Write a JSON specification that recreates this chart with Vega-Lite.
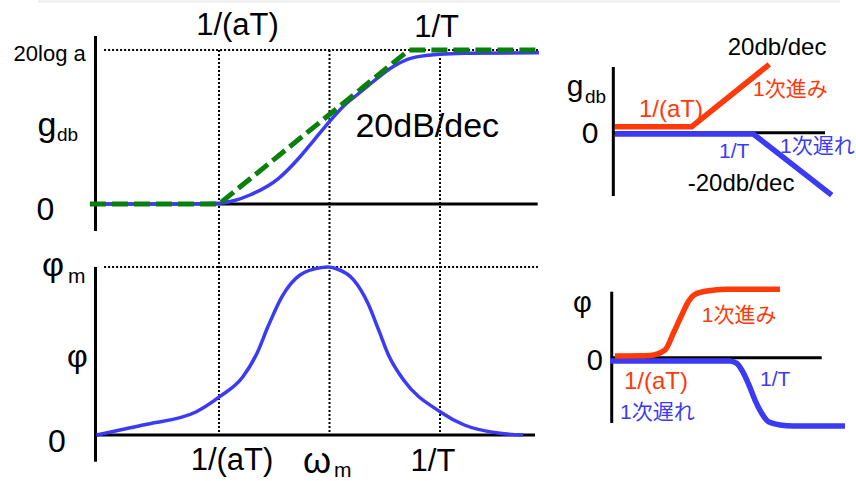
{
  "$schema": "https://vega.github.io/schema/vega-lite/v6.json",
  "width": 856,
  "height": 481,
  "autosize": {"type": "none"},
  "padding": 0,
  "background": "white",
  "config": {"view": {"stroke": null}, "text": {"font": "Liberation Sans, Noto Sans CJK JP", "color": "black"}},
  "datasets": {
    "gainA": [
      {"kind": "frame", "w": -1.819, "w2": 1.81, "v": 26.3, "v2": 26.3},
      {"kind": "axis", "w": -1.5588, "w2": -1.5588, "v": 21.82, "v2": -3.51},
      {"kind": "axis", "w": -1.5588, "w2": 0.442, "v": 0, "v2": 0},
      {"kind": "guide", "w": -1.52, "w2": 0.443, "v": 20, "v2": 20},
      {"kind": "guide", "w": -1, "w2": -1, "v": 20, "v2": -30},
      {"kind": "guide", "w": -0.5, "w2": -0.5, "v": 20, "v2": -30},
      {"kind": "guide", "w": 0, "w2": 0, "v": 20, "v2": -30},
      {"kind": "exact", "w": -1.584, "v": 0},
      {"kind": "exact", "w": -1.2, "v": 0},
      {"kind": "exact", "w": -1.0, "v": 0.1},
      {"kind": "exact", "w": -0.93, "v": 0.45},
      {"kind": "exact", "w": -0.86, "v": 1.17},
      {"kind": "exact", "w": -0.73, "v": 3.34},
      {"kind": "exact", "w": -0.633, "v": 6.14},
      {"kind": "exact", "w": -0.57, "v": 8.31},
      {"kind": "exact", "w": -0.507, "v": 10.48},
      {"kind": "exact", "w": -0.439, "v": 12.64},
      {"kind": "exact", "w": -0.376, "v": 14.16},
      {"kind": "exact", "w": -0.294, "v": 16.1},
      {"kind": "exact", "w": -0.213, "v": 17.83},
      {"kind": "exact", "w": -0.133, "v": 18.92},
      {"kind": "exact", "w": 0, "v": 19.44},
      {"kind": "exact", "w": 0.109, "v": 19.57},
      {"kind": "exact", "w": 0.448, "v": 19.65},
      {"kind": "asymptote", "w": -1.584, "v": 0},
      {"kind": "asymptote", "w": -1.0, "v": 0},
      {"kind": "asymptote", "w": -0.14, "v": 20},
      {"kind": "asymptote", "w": 0.443, "v": 20},
      {"kind": "tick", "label": "1/(aT)", "w": -0.9163, "v": 21.948},
      {"kind": "tick", "label": "1/T", "w": -0.0154, "v": 21.649},
      {"kind": "level", "label": "20log a", "w": -1.9294, "v": 18.571},
      {"kind": "sym", "label": "g", "w": -1.8213, "v": 8.831},
      {"kind": "sub", "label": "db", "w": -1.733, "v": 8.182},
      {"kind": "zero", "label": "0", "w": -1.8253, "v": -2.078},
      {"kind": "slope", "label": "20dB/dec", "w": -0.3828, "v": 8.662}
    ],
    "phaseB": [
      {"kind": "axis", "w": -1.5588, "w2": -1.5588, "v": 55, "v2": -8.74},
      {"kind": "axis", "w": -1.5588, "w2": 0.43, "v": 0, "v2": 0},
      {"kind": "guide", "w": -1.52, "w2": 0.443, "v": 55, "v2": 55},
      {"kind": "exact", "w": -1.5548, "v": 0},
      {"kind": "exact", "w": -1.3443, "v": 3.27},
      {"kind": "exact", "w": -1.1023, "v": 7.63},
      {"kind": "exact", "w": -0.9973, "v": 12.54},
      {"kind": "exact", "w": -0.8919, "v": 19.09},
      {"kind": "exact", "w": -0.8281, "v": 26.75},
      {"kind": "exact", "w": -0.7783, "v": 35.5},
      {"kind": "exact", "w": -0.7149, "v": 45.33},
      {"kind": "exact", "w": -0.6335, "v": 52.38},
      {"kind": "exact", "w": -0.5385, "v": 54.8},
      {"kind": "exact", "w": -0.5068, "v": 55},
      {"kind": "exact", "w": -0.4719, "v": 54.5},
      {"kind": "exact", "w": -0.3909, "v": 50.76},
      {"kind": "exact", "w": -0.3262, "v": 43.1},
      {"kind": "exact", "w": -0.2778, "v": 34.4},
      {"kind": "exact", "w": -0.2294, "v": 25.6},
      {"kind": "exact", "w": -0.1647, "v": 18.0},
      {"kind": "exact", "w": 0, "v": 7.63},
      {"kind": "exact", "w": 0.11, "v": 3.27},
      {"kind": "exact", "w": 0.2715, "v": 0.55},
      {"kind": "exact", "w": 0.3765, "v": 0},
      {"kind": "tick", "label": "1/(aT)", "w": -0.9412, "v": -11.458},
      {"kind": "tick", "label": "1/T", "w": -0.0317, "v": -11.786},
      {"kind": "sym", "label": "φ", "w": -1.8014, "v": 52.05},
      {"kind": "sub", "label": "m", "w": -1.6837, "v": 49.66},
      {"kind": "name", "label": "φ", "w": -1.6882, "v": 22.26},
      {"kind": "name", "label": "0", "w": -1.7738, "v": -5.467},
      {"kind": "omega", "label": "ω", "w": -0.6199, "v": -12.44},
      {"kind": "sub", "label": "m", "w": -0.4796, "v": -13.75}
    ],
    "gainC": [
      {"kind": "axis", "w": 0.004, "w2": 0.004, "v": 20.86, "v2": -20.1},
      {"kind": "axis", "w": 0.004, "w2": 2.65, "v": 0, "v2": 0},
      {"kind": "lead", "w": 0.025, "v": 1.9},
      {"kind": "lead", "w": 0.984, "v": 1.9},
      {"kind": "lead", "w": 1.954, "v": 21.7},
      {"kind": "lag", "w": 0.025, "v": -0.41},
      {"kind": "lag", "w": 1.754, "v": -0.41},
      {"kind": "lag", "w": 2.734, "v": -19.8},
      {"kind": "black", "label": "20db/dec", "w": 1.4338, "v": 24.667},
      {"kind": "black", "label": "-20db/dec", "w": 0.9338, "v": -18.508},
      {"kind": "sym", "label": "g", "w": -0.5788, "v": 11.651},
      {"kind": "sub", "label": "db", "w": -0.35, "v": 9.429},
      {"kind": "zero", "label": "0", "w": -0.3913, "v": -3.27},
      {"kind": "leadTick", "label": "1/(aT)", "w": 0.325, "v": 5.079},
      {"kind": "leadText", "label": "1次進み", "w": 1.75, "v": 11.651},
      {"kind": "lagText", "label": "1/T", "w": 1.325, "v": -8.032},
      {"kind": "lagText", "label": "1次遅れ", "w": 2.0875, "v": -6.603}
    ],
    "phaseD": [
      {"kind": "axis", "w": -0.016, "w2": -0.016, "v": 89.2, "v2": -88.2},
      {"kind": "axis", "w": -0.016, "w2": 2.609, "v": 0, "v2": 0},
      {"kind": "lead", "w": 0.025, "v": 2.3},
      {"kind": "lead", "w": 0.4625, "v": 3.0},
      {"kind": "lead", "w": 0.65, "v": 10.4},
      {"kind": "lead", "w": 0.754, "v": 33.0},
      {"kind": "lead", "w": 0.859, "v": 57.7},
      {"kind": "lead", "w": 0.941, "v": 75.7},
      {"kind": "lead", "w": 1.025, "v": 85.7},
      {"kind": "lead", "w": 1.171, "v": 90.1},
      {"kind": "lead", "w": 1.421, "v": 92.4},
      {"kind": "lead", "w": 2.0875, "v": 92.4},
      {"kind": "lag", "w": -0.0375, "v": -4.46},
      {"kind": "lag", "w": 1.4625, "v": -4.46},
      {"kind": "lag", "w": 1.546, "v": -7.57},
      {"kind": "lag", "w": 1.609, "v": -16.6},
      {"kind": "lag", "w": 1.691, "v": -34.6},
      {"kind": "lag", "w": 1.775, "v": -57.2},
      {"kind": "lag", "w": 1.859, "v": -75.1},
      {"kind": "lag", "w": 1.941, "v": -86.5},
      {"kind": "lag", "w": 2.0875, "v": -90.9},
      {"kind": "lag", "w": 2.254, "v": -92.3},
      {"kind": "lag", "w": 2.9, "v": -92.3},
      {"kind": "black", "label": "φ", "w": -0.5, "v": 61.76},
      {"kind": "black", "label": "0", "w": -0.3288, "v": -16.62},
      {"kind": "leadTick", "label": "1/(aT)", "w": 0.1375, "v": -42.3},
      {"kind": "leadText", "label": "1次進み", "w": 1.1088, "v": 48.24},
      {"kind": "lagText", "label": "1/T", "w": 1.8375, "v": -38.24},
      {"kind": "lagText", "label": "1次遅れ", "w": 0.0875, "v": -82.84}
    ]
  },
  "layer": [
    {
      "data": {"name": "gainA"},
      "encoding": {
        "x": {"field": "w", "type": "quantitative", "scale": {"domain": [-1.99095, 1.88235], "nice": false, "zero": false}, "axis": null},
        "y": {"field": "v", "type": "quantitative", "scale": {"domain": [-35.974, 26.494], "nice": false, "zero": false}, "axis": null}
      },
      "layer": [
        {"transform": [{"filter": "datum.kind === 'frame'"}], "mark": {"type": "rule", "color": "#ececec", "strokeWidth": 2}, "encoding": {"x2": {"field": "w2"}, "y2": {"field": "v2"}}},
        {"transform": [{"filter": "datum.kind === 'guide'"}], "mark": {"type": "rule", "color": "black", "strokeWidth": 2, "strokeDash": [2, 2]}, "encoding": {"x2": {"field": "w2"}, "y2": {"field": "v2"}}},
        {"transform": [{"filter": "datum.kind === 'axis'"}], "mark": {"type": "rule", "color": "black", "strokeWidth": 3}, "encoding": {"x2": {"field": "w2"}, "y2": {"field": "v2"}}},
        {"transform": [{"filter": "datum.kind === 'exact'"}], "mark": {"type": "line", "color": "#3b3bf5", "strokeWidth": 3.5, "interpolate": "monotone"}},
        {"transform": [{"filter": "datum.kind === 'asymptote'"}], "mark": {"type": "line", "color": "#0a7f0a", "strokeWidth": 5, "strokeDash": [16, 6]}},
        {"transform": [{"filter": "datum.kind === 'tick'"}], "mark": {"type": "text", "align": "center", "baseline": "alphabetic", "fontSize": 31}, "encoding": {"text": {"field": "label"}}},
        {"transform": [{"filter": "datum.kind === 'zero'"}], "mark": {"type": "text", "align": "left", "baseline": "alphabetic", "fontSize": 32}, "encoding": {"text": {"field": "label"}}},
        {"transform": [{"filter": "datum.kind === 'level'"}], "mark": {"type": "text", "align": "left", "baseline": "alphabetic", "fontSize": 22}, "encoding": {"text": {"field": "label"}}},
        {"transform": [{"filter": "datum.kind === 'sym'"}], "mark": {"type": "text", "align": "left", "baseline": "alphabetic", "fontSize": 34}, "encoding": {"text": {"field": "label"}}},
        {"transform": [{"filter": "datum.kind === 'sub'"}], "mark": {"type": "text", "align": "left", "baseline": "alphabetic", "fontSize": 19}, "encoding": {"text": {"field": "label"}}},
        {"transform": [{"filter": "datum.kind === 'slope'"}], "mark": {"type": "text", "align": "left", "baseline": "alphabetic", "fontSize": 34}, "encoding": {"text": {"field": "label"}}}
      ]
    },
    {
      "data": {"name": "phaseB"},
      "encoding": {
        "x": {"field": "w", "type": "quantitative", "scale": {"domain": [-1.99095, 1.88235], "nice": false, "zero": false}, "axis": null},
        "y": {"field": "v", "type": "quantitative", "scale": {"domain": [-15.06, 142.411], "nice": false, "zero": false}, "axis": null}
      },
      "layer": [
        {"transform": [{"filter": "datum.kind === 'guide'"}], "mark": {"type": "rule", "color": "black", "strokeWidth": 2, "strokeDash": [2, 2]}, "encoding": {"x2": {"field": "w2"}, "y2": {"field": "v2"}}},
        {"transform": [{"filter": "datum.kind === 'axis'"}], "mark": {"type": "rule", "color": "black", "strokeWidth": 3}, "encoding": {"x2": {"field": "w2"}, "y2": {"field": "v2"}}},
        {"transform": [{"filter": "datum.kind === 'exact'"}], "mark": {"type": "line", "color": "#3b3bf5", "strokeWidth": 3.5, "interpolate": "monotone"}},
        {"transform": [{"filter": "datum.kind === 'tick'"}], "mark": {"type": "text", "align": "center", "baseline": "alphabetic", "fontSize": 31}, "encoding": {"text": {"field": "label"}}},
        {"transform": [{"filter": "datum.kind === 'name'"}], "mark": {"type": "text", "align": "left", "baseline": "alphabetic", "fontSize": 32}, "encoding": {"text": {"field": "label"}}},
        {"transform": [{"filter": "datum.kind === 'omega'"}], "mark": {"type": "text", "align": "left", "baseline": "alphabetic", "fontSize": 36}, "encoding": {"text": {"field": "label"}}},
        {"transform": [{"filter": "datum.kind === 'sym'"}], "mark": {"type": "text", "align": "left", "baseline": "alphabetic", "fontSize": 34}, "encoding": {"text": {"field": "label"}}},
        {"transform": [{"filter": "datum.kind === 'sub'"}], "mark": {"type": "text", "align": "left", "baseline": "alphabetic", "fontSize": 21}, "encoding": {"text": {"field": "label"}}}
      ]
    },
    {
      "data": {"name": "gainC"},
      "encoding": {
        "x": {"field": "w", "type": "quantitative", "scale": {"domain": [-7.6625, 3.0375], "nice": false, "zero": false}, "axis": null},
        "y": {"field": "v", "type": "quantitative", "scale": {"domain": [-110.571, 42.127], "nice": false, "zero": false}, "axis": null}
      },
      "layer": [
        {"transform": [{"filter": "datum.kind === 'axis'"}], "mark": {"type": "rule", "color": "black", "strokeWidth": 3}, "encoding": {"x2": {"field": "w2"}, "y2": {"field": "v2"}}},
        {"transform": [{"filter": "datum.kind === 'lead'"}], "mark": {"type": "line", "color": "#ff3a0a", "strokeWidth": 5.5}},
        {"transform": [{"filter": "datum.kind === 'lag'"}], "mark": {"type": "line", "color": "#3b3bf5", "strokeWidth": 5.5}},
        {"transform": [{"filter": "datum.kind === 'black'"}], "mark": {"type": "text", "align": "left", "baseline": "alphabetic", "fontSize": 24}, "encoding": {"text": {"field": "label"}}},
        {"transform": [{"filter": "datum.kind === 'sym'"}], "mark": {"type": "text", "align": "left", "baseline": "alphabetic", "fontSize": 30}, "encoding": {"text": {"field": "label"}}},
        {"transform": [{"filter": "datum.kind === 'sub'"}], "mark": {"type": "text", "align": "left", "baseline": "alphabetic", "fontSize": 19}, "encoding": {"text": {"field": "label"}}},
        {"transform": [{"filter": "datum.kind === 'zero'"}], "mark": {"type": "text", "align": "left", "baseline": "alphabetic", "fontSize": 30}, "encoding": {"text": {"field": "label"}}},
        {"transform": [{"filter": "datum.kind === 'leadTick'"}], "mark": {"type": "text", "align": "left", "baseline": "alphabetic", "fontSize": 24, "color": "#ff3a0a"}, "encoding": {"text": {"field": "label"}}},
        {"transform": [{"filter": "datum.kind === 'leadText'"}], "mark": {"type": "text", "align": "left", "baseline": "alphabetic", "fontSize": 21, "color": "#ff3a0a"}, "encoding": {"text": {"field": "label"}}},
        {"transform": [{"filter": "datum.kind === 'lagText'"}], "mark": {"type": "text", "align": "left", "baseline": "alphabetic", "fontSize": 21, "color": "#3b3bf5"}, "encoding": {"text": {"field": "label"}}}
      ]
    },
    {
      "data": {"name": "phaseD"},
      "encoding": {
        "x": {"field": "w", "type": "quantitative", "scale": {"domain": [-7.6625, 3.0375], "nice": false, "zero": false}, "axis": null},
        "y": {"field": "v", "type": "quantitative", "scale": {"domain": [-166.622, 483.378], "nice": false, "zero": false}, "axis": null}
      },
      "layer": [
        {"transform": [{"filter": "datum.kind === 'axis'"}], "mark": {"type": "rule", "color": "black", "strokeWidth": 3}, "encoding": {"x2": {"field": "w2"}, "y2": {"field": "v2"}}},
        {"transform": [{"filter": "datum.kind === 'lag'"}], "mark": {"type": "line", "color": "#3b3bf5", "strokeWidth": 5.5, "interpolate": "monotone"}},
        {"transform": [{"filter": "datum.kind === 'lead'"}], "mark": {"type": "line", "color": "#ff3a0a", "strokeWidth": 5.5, "interpolate": "monotone"}},
        {"transform": [{"filter": "datum.kind === 'black'"}], "mark": {"type": "text", "align": "left", "baseline": "alphabetic", "fontSize": 29}, "encoding": {"text": {"field": "label"}}},
        {"transform": [{"filter": "datum.kind === 'leadTick'"}], "mark": {"type": "text", "align": "left", "baseline": "alphabetic", "fontSize": 24, "color": "#ff3a0a"}, "encoding": {"text": {"field": "label"}}},
        {"transform": [{"filter": "datum.kind === 'leadText'"}], "mark": {"type": "text", "align": "left", "baseline": "alphabetic", "fontSize": 21, "color": "#ff3a0a"}, "encoding": {"text": {"field": "label"}}},
        {"transform": [{"filter": "datum.kind === 'lagText'"}], "mark": {"type": "text", "align": "left", "baseline": "alphabetic", "fontSize": 21, "color": "#3b3bf5"}, "encoding": {"text": {"field": "label"}}}
      ]
    }
  ],
  "resolve": {"scale": {"x": "independent", "y": "independent"}}
}
